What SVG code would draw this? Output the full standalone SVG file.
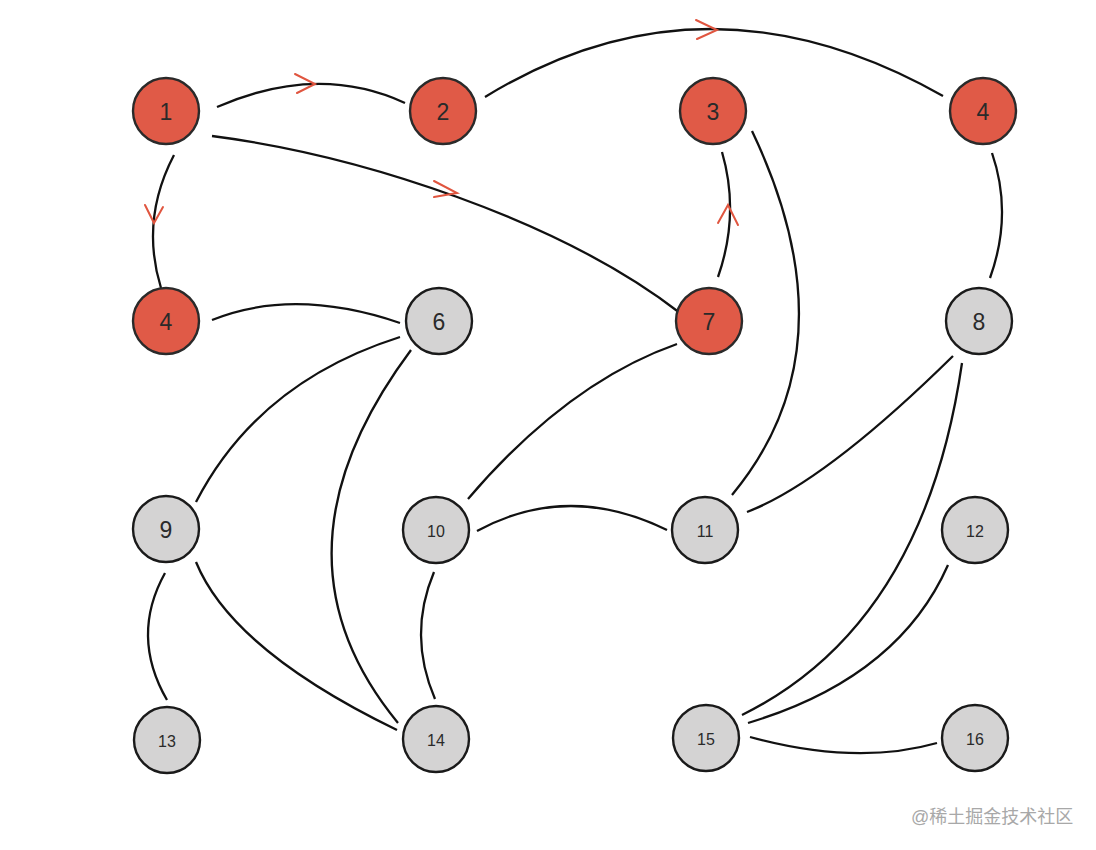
<svg xmlns="http://www.w3.org/2000/svg" width="1096" height="850" viewBox="0 0 1096 850">
<style>
.bg{fill:#ffffff}
.edge{fill:none;stroke:#111;stroke-width:2.3;stroke-linecap:butt}
.arrow{fill:none;stroke:#e0553f;stroke-width:2;stroke-linecap:round;stroke-linejoin:miter}
.red{fill:#e05a47;stroke:#2a2a2a;stroke-width:2.4}
.gray{fill:#d4d3d3;stroke:#1a1a1a;stroke-width:2.4}
.lbl{font-family:"Liberation Sans",Arial,sans-serif;fill:#2a2a2a;text-anchor:middle;dominant-baseline:central}
.big{font-size:23px}
.small{font-size:16px}
.wm{font-family:"Liberation Sans","Noto Sans CJK SC",sans-serif;font-size:18px;fill:#a8a8a8}
</style>
<rect class="bg" x="0" y="0" width="1096" height="850"/>
<g id="connectors">
  <path class="edge" d="M217,107 Q318,63 405,103"/>
  <path class="arrow" d="M295,74 L315,84 L297,93"/>
  <path class="edge" d="M485,97 Q706,-38.5 943,96"/>
  <path class="arrow" d="M696,20 L717,30 L697,39"/>
  <path class="edge" d="M212,136 C360,155 560,220 680,313"/>
  <path class="arrow" d="M434,181 L457,193 L434,197"/>
  <path class="edge" d="M174,155 Q140,220 161,288"/>
  <path class="arrow" d="M145,205 L154,223 L163,207"/>
  <path class="edge" d="M212,320 Q294,287 400,323"/>
  <path class="edge" d="M400,337 Q258,382 196,502"/>
  <path class="edge" d="M411,350 Q259,554 398,723"/>
  <path class="edge" d="M677,344 Q567.5,382.5 468,499"/>
  <path class="edge" d="M718,277 Q740,214 722,152"/>
  <path class="arrow" d="M718,223 L728,205 L738,225"/>
  <path class="edge" d="M752,131 Q855,347 732,495"/>
  <path class="edge" d="M992,153 Q1013,214 990,278"/>
  <path class="edge" d="M953,356 Q825,482 747,512"/>
  <path class="edge" d="M962,363 Q924,625 742,715"/>
  <path class="edge" d="M477,531 Q568,481.5 667,530"/>
  <path class="edge" d="M434,572 Q407.5,635 435,699"/>
  <path class="edge" d="M165,573 Q130,636 167,700"/>
  <path class="edge" d="M196,562 Q232,650 397,730"/>
  <path class="edge" d="M948,565 Q898,678 748,723"/>
  <path class="edge" d="M750,737 Q856,766 937,743"/>
</g>
<g id="n1"><circle class="red" cx="166" cy="111" r="33"/><text class="lbl big" x="166" y="112">1</text></g>
<g id="n2"><circle class="red" cx="443" cy="111" r="33"/><text class="lbl big" x="443" y="112">2</text></g>
<g id="n3"><circle class="red" cx="713" cy="111" r="33"/><text class="lbl big" x="713" y="112">3</text></g>
<g id="n4"><circle class="red" cx="983" cy="111" r="33"/><text class="lbl big" x="983" y="112">4</text></g>
<g id="n4b"><circle class="red" cx="166" cy="321" r="33"/><text class="lbl big" x="166" y="322">4</text></g>
<g id="n6"><circle class="gray" cx="439" cy="321" r="33"/><text class="lbl big" x="439" y="322">6</text></g>
<g id="n7"><circle class="red" cx="709" cy="321" r="33"/><text class="lbl big" x="709" y="322">7</text></g>
<g id="n8"><circle class="gray" cx="979" cy="321" r="33"/><text class="lbl big" x="979" y="322">8</text></g>
<g id="n9"><circle class="gray" cx="166" cy="529" r="33"/><text class="lbl big" x="166" y="530">9</text></g>
<g id="n10"><circle class="gray" cx="436" cy="530" r="33"/><text class="lbl small" x="436" y="531">10</text></g>
<g id="n11"><circle class="gray" cx="705" cy="530" r="33"/><text class="lbl small" x="705" y="531">11</text></g>
<g id="n12"><circle class="gray" cx="975" cy="530" r="33"/><text class="lbl small" x="975" y="531">12</text></g>
<g id="n13"><circle class="gray" cx="167" cy="740" r="33"/><text class="lbl small" x="167" y="741">13</text></g>
<g id="n14"><circle class="gray" cx="436" cy="739" r="33"/><text class="lbl small" x="436" y="740">14</text></g>
<g id="n15"><circle class="gray" cx="706" cy="738" r="33"/><text class="lbl small" x="706" y="739">15</text></g>
<g id="n16"><circle class="gray" cx="975" cy="738" r="33"/><text class="lbl small" x="975" y="739">16</text></g>
<text class="wm" x="911" y="823">@稀土掘金技术社区</text>
</svg>
